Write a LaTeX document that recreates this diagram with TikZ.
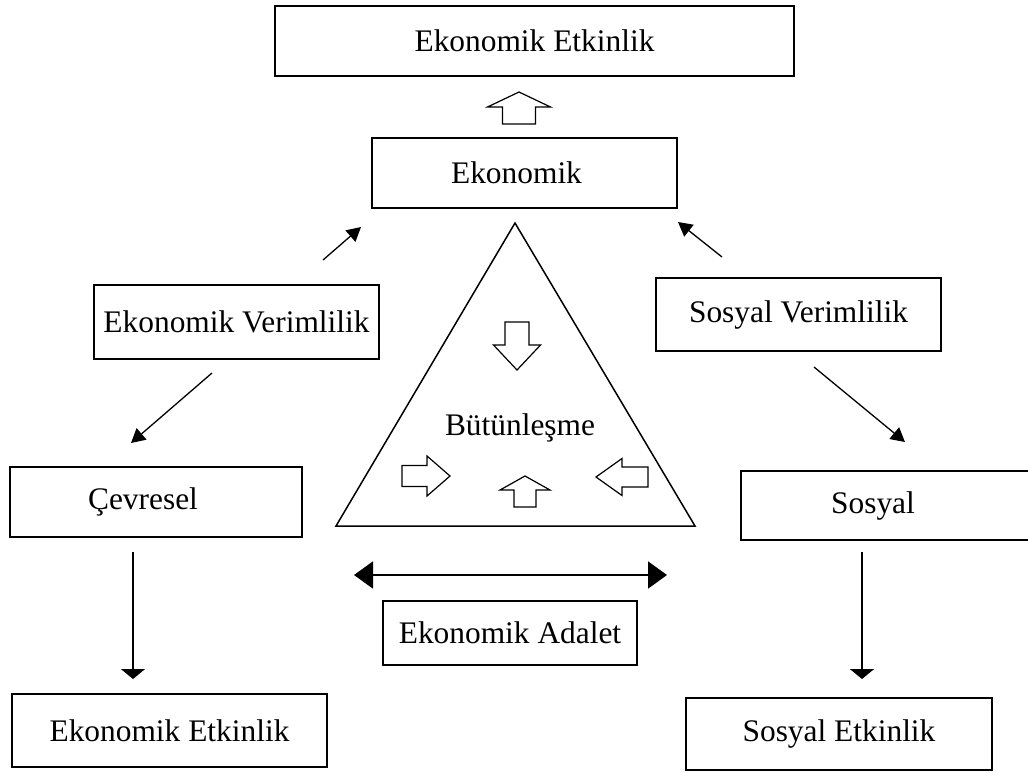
\documentclass[tikz,border=0pt]{standalone}
\usepackage{fontspec}
\setmainfont{Liberation Serif}
\usetikzlibrary{arrows.meta,fit}

% hollow block arrow: tip x, tip y, direction, total length, head length, head half-width, shaft half-width
\newcommand\hollowarrow[7]{%
  \begin{scope}[shift={(#1,#2)},rotate=#3]
    \draw[hollow] (0,0) -- (-#5,#6) -- (-#5,#7) -- (-#4,#7)
      -- (-#4,-#7) -- (-#5,-#7) -- (-#5,-#6) -- cycle;
  \end{scope}}

\begin{document}
\begin{tikzpicture}[
  x=0.5pt, y=-0.5pt,
  every node/.style={font=\fontsize{15.7}{18}\selectfont},
  box/.style={draw, line width=1pt, rectangle, inner sep=0pt},
  lbl/.style={inner sep=0pt},
  hollow/.style={line width=0.6pt, fill=white, line join=miter},
  thin arrow/.style={line width=0.65pt, -{Triangle[length=7pt,width=7.5pt]}},
  down arrow/.style={line width=0.75pt, -{Triangle[length=5pt,width=12pt]}},
  both arrow/.style={line width=1pt, {Triangle[length=9.5pt,width=13.5pt]}-{Triangle[length=9.5pt,width=13.5pt]}}
]
\useasboundingbox (0,0) rectangle (1028,772);

% boxes
\node[box, fit={(275,6)(794,76)}, label={[lbl]center:Ekonomik Etkinlik}] (topeff) {};
\node[box, fit={(372,138)(677,208)}, label={[lbl,xshift=-4pt]center:Ekonomik}] (eko) {};
\node[box, fit={(94,285)(379,359)}, label={[lbl]center:Ekonomik Verimlilik}] (ever) {};
\node[box, fit={(656,278)(941,351)}, label={[lbl]center:Sosyal Verimlilik}] (sver) {};
\node[box, fit={(10,467)(302,537)}, label={[lbl,xshift=-6.5pt]center:Çevresel}] (cevre) {};
\node[box, fit={(741,471)(1034,540)}, label={[lbl,xshift=-7.25pt]center:Sosyal}] (sos) {};
\node[box, fit={(383,601)(637,665)}, label={[lbl]center:Ekonomik Adalet}] (adalet) {};
\node[box, fit={(12,694)(327,767)}, label={[lbl]center:Ekonomik Etkinlik}] (eeff) {};
\node[box, fit={(686,698)(992,770)}, label={[lbl]center:Sosyal Etkinlik}] (seff) {};

% central triangle
\draw[line width=0.75pt, line join=miter] (515,223) -- (336,526) -- (695,526) -- cycle;
\node (butun) at (520,428) {Bütünleşme};

% block arrows
\hollowarrow{519}{92}{90}{32}{15}{31.5}{16.5}
\hollowarrow{517}{370}{-90}{48}{25}{23.5}{12}
\hollowarrow{450}{476}{0}{48}{23}{20}{10.5}
\hollowarrow{525}{476}{90}{31}{14}{25}{11}
\hollowarrow{596}{477}{180}{52}{26}{18.5}{10}

% free-standing connector ends
\coordinate (ne1) at (323,260);  \coordinate (ne2) at (361,227);
\coordinate (nw1) at (722,257);  \coordinate (nw2) at (678,222);
\coordinate (sw1) at (212,373);  \coordinate (sw2) at (131,443);
\coordinate (se1) at (814,367);  \coordinate (se2) at (905,442);
\coordinate (l1) at (133,552);   \coordinate (l2) at (133,679);
\coordinate (r1) at (862,552);   \coordinate (r2) at (862,679);
\coordinate (h1) at (354,575);   \coordinate (h2) at (667,575);

\draw[thin arrow] (ne1) -- (ne2);
\draw[thin arrow] (nw1) -- (nw2);
\draw[thin arrow] (sw1) -- (sw2);
\draw[thin arrow] (se1) -- (se2);
\draw[down arrow] (l1) -- (l2);
\draw[down arrow] (r1) -- (r2);
\draw[both arrow] (h1) -- (h2);
\end{tikzpicture}
\end{document}
